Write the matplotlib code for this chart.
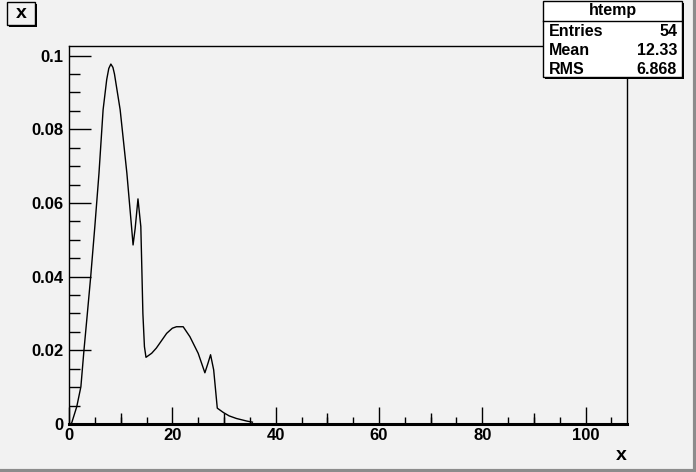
import matplotlib.pyplot as plt
from matplotlib.patches import Rectangle
from matplotlib.ticker import MultipleLocator

# curve (x, density)
xs = [0, 0.5, 1.5, 2.3, 2.9, 3.5, 4.2, 5.0, 5.8, 6.6, 7.3, 7.7, 8.1, 8.5,
      8.8, 9.9, 11.2, 12.1, 12.4, 12.8, 13.35, 13.9, 14.1, 14.3, 14.6,
      14.9, 16.0, 16.9, 18.0, 18.9, 20.0, 20.8, 22.1, 23.4, 25.0, 26.3,
      26.9, 27.4, 28.0, 28.7, 29.9, 31.0, 32.4, 34.4, 35.5]
ys = [0, 0.0002, 0.0047, 0.0101, 0.0201, 0.0292, 0.040, 0.0536, 0.068,
      0.0853, 0.0935, 0.0965, 0.0977, 0.0968, 0.095, 0.0853, 0.0681,
      0.0536, 0.0486, 0.053, 0.0611, 0.0536, 0.042, 0.030, 0.021, 0.0181,
      0.0192, 0.0206, 0.0228, 0.0246, 0.026, 0.0264, 0.0264, 0.0237,
      0.0192, 0.0139, 0.0165, 0.0188, 0.0147, 0.0043, 0.0031, 0.0022,
      0.0015, 0.0008, 0.0005]

title = "x"
stats_name = "htemp"
stats_rows = [("Entries", "54"), ("Mean", "12.33"), ("RMS", "6.868")]

bg = "#f2f2f2"
plt.rcParams["font.family"] = ["Liberation Sans", "DejaVu Sans"]
plt.rcParams["font.weight"] = "bold"

W, H = 696, 472
fig = plt.figure(figsize=(W / 100, H / 100), dpi=100, facecolor=bg)
ax = fig.add_axes([69 / W, 1 - 424 / H, (627 - 69) / W, (424 - 46) / H])
ax.set_facecolor(bg)

ax.plot(xs, ys, color="black", linewidth=1.0)

ax.set_xlim(0, 108)
ax.set_ylim(0, 0.1026)
ax.xaxis.set_major_locator(MultipleLocator(20))
ax.xaxis.set_minor_locator(MultipleLocator(5))
ax.yaxis.set_minor_locator(MultipleLocator(0.005))
ax.set_yticks([0, 0.02, 0.04, 0.06, 0.08, 0.1])
ax.set_yticklabels(["0", "0.02", "0.04", "0.06", "0.08", "0.1"])
ax.tick_params(axis="both", which="both", direction="in", labelsize=12,
               top=False, right=False)
ax.tick_params(axis="x", which="major", length=12, width=1, pad=3)
ax.tick_params(axis="x", which="minor", length=5, width=1)
ax.tick_params(axis="y", which="major", length=16, width=1, pad=4)
ax.tick_params(axis="y", which="minor", length=8, width=1)
for lab in ax.get_xticklabels() + ax.get_yticklabels():
    lab.set_fontweight("bold")

# medium ticks at every 10
sec = ax.secondary_xaxis("bottom")
sec.set_xticks([10, 30, 50, 70, 90])
sec.set_xticklabels([])
sec.tick_params(direction="in", length=8, width=1)
sec.spines["bottom"].set_visible(False)

for s in ax.spines.values():
    s.set_linewidth(1)
ax.spines["bottom"].set_linewidth(2.2)

ax.set_xlabel("x", fontsize=14, fontweight="bold")
ax.xaxis.set_label_coords((621 - 69) / (627 - 69), -(456 - 424) / (424 - 46))
ax.xaxis.label.set_horizontalalignment("center")
ax.xaxis.label.set_verticalalignment("center")

# title box with shadow
fig.patches.append(Rectangle((9 / W, 1 - 27 / H), 28 / W, 23 / H,
                             transform=fig.transFigure, fc="black",
                             ec="none", zorder=5))
fig.patches.append(Rectangle((7 / W, 1 - 25 / H), 28 / W, 23 / H,
                             transform=fig.transFigure, fc=bg,
                             ec="black", lw=1, zorder=6))
fig.text(21 / W, 1 - 14 / H, title, ha="center", va="center", fontsize=14,
         fontweight="bold", zorder=8)

# stats box
x0, x1, y0, y1 = 543, 682, 1, 77
fig.patches.append(Rectangle((x0 / W + 2 / W, 1 - (y1 + 2) / H),
                             (x1 - x0) / W, (y1 - y0) / H,
                             transform=fig.transFigure, fc="black",
                             ec="none", zorder=5))
fig.patches.append(Rectangle((x0 / W, 1 - y1 / H), (x1 - x0) / W,
                             (y1 - y0) / H, transform=fig.transFigure,
                             fc="white", ec="black", lw=1, zorder=6))
fig.lines.append(plt.Line2D([x0 / W, x1 / W], [1 - 21 / H, 1 - 21 / H],
                            transform=fig.transFigure, color="black",
                            lw=1, zorder=7))
fig.text((x0 + x1) / 2 / W, 1 - 11 / H, stats_name, ha="center",
         va="center", fontsize=11.5, fontweight="bold", zorder=8)
for i, (k, v) in enumerate(stats_rows):
    yy = 1 - (32 + i * 18.5) / H
    fig.text((x0 + 6) / W, yy, k, ha="left", va="center", fontsize=11.5,
             fontweight="bold", zorder=8)
    fig.text((x1 - 5) / W, yy, v, ha="right", va="center", fontsize=11.5,
             fontweight="bold", zorder=8)

# canvas border
fig.lines.append(plt.Line2D([0, 1], [1.5 / H, 1.5 / H],
                            transform=fig.transFigure, color="#8c8c8c",
                            lw=3))
fig.lines.append(plt.Line2D([1 - 1.5 / W, 1 - 1.5 / W], [0, 1],
                            transform=fig.transFigure, color="#8c8c8c",
                            lw=3))

fig.savefig("out.png", dpi=100, facecolor=bg)
